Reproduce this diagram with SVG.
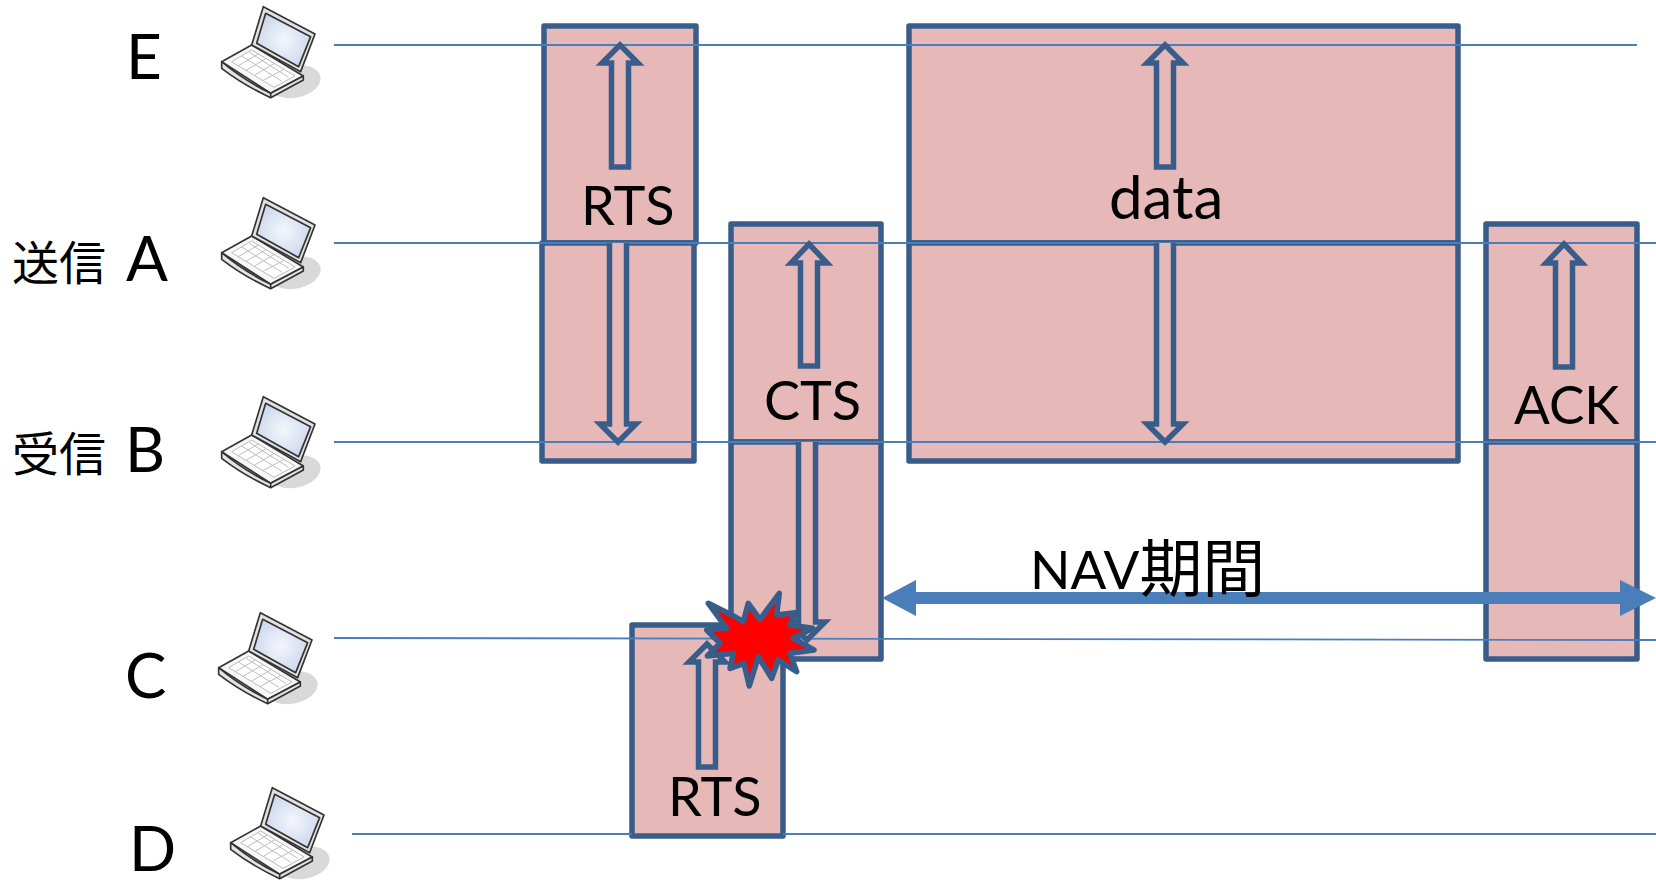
<svg xmlns="http://www.w3.org/2000/svg" width="1656" height="883" viewBox="0 0 1656 883">
<style>
.t{font-family:Lato,"Noto Sans CJK JP",sans-serif;fill:#000}
.lab{font-size:62px}
.box{font-size:54px}
.jp{font-size:47px;font-family:"Noto Sans CJK JP",sans-serif}
.cjk{font-size:63px;font-family:"Noto Sans CJK JP",sans-serif}
.b{fill:#e6b9b8;stroke:#385d8a;stroke-width:5.500;stroke-linejoin:round}
.a{fill:#e6b9b8;stroke:#385d8a;stroke-width:5.500;stroke-linejoin:miter}
.l{stroke:#4a7ebb;stroke-width:1.8;fill:none}
</style>
<defs>
<radialGradient id="scr" cx=".5" cy=".5" r=".6"><stop offset="0" stop-color="#f4f6fb"/><stop offset="1" stop-color="#c9d5ec"/></radialGradient>
<g id="laptop" transform="scale(.3333)" stroke-linejoin="round">
<ellipse cx="285" cy="245" rx="78" ry="48" fill="#d9d9d9" transform="rotate(-12 285 245)"/>
<path d="M65 185L155 135L310 228L212 280Z" fill="#f7f7f7" stroke="#333" stroke-width="5"/>
<path d="M65 185L65 205Q130 255 212 293L310 240L310 228L212 280Q130 240 65 185Z" fill="#e4e4e4" stroke="#333" stroke-width="5"/>
<path d="M212 280L212 293" stroke="#333" stroke-width="5"/>
<path d="M95 185L155 150L285 228L222 262Z" fill="#fff" stroke="#bbb" stroke-width="3"/>
<path d="M115 197L175 162M138 211L198 176M163 226L223 190M190 241L252 208M125 168L246 244M148 157L266 232" stroke="#bdbdbd" stroke-width="3" fill="none"/>
<path d="M155 135L190 20L345 102L302 215Z" fill="#e2e2e2" stroke="#333" stroke-width="5"/>
<path d="M197 40L332 110L296 200L170 130Z" fill="url(#scr)" stroke="#333" stroke-width="5"/>
</g>
</defs>
<g id="boxes">
<rect id="rts-top" class="b" x="544" y="26" width="152" height="217"/>
<rect id="rts-bottom" class="b" x="542" y="243" width="152" height="218"/>
<rect id="data-top" class="b" x="909" y="26" width="549" height="217"/>
<rect id="data-bottom" class="b" x="909" y="243" width="549" height="218"/>
<rect id="cts-top" class="b" x="731" y="224" width="150" height="218"/>
<rect id="cts-bottom" class="b" x="731" y="442" width="150" height="217"/>
<rect id="ack-top" class="b" x="1486" y="224" width="151" height="218"/>
<rect id="ack-bottom" class="b" x="1486" y="442" width="151" height="217"/>
<rect id="rts-c" class="b" x="632" y="625" width="151" height="211"/>
</g>
<g id="connectors">
<path class="l" d="M334 45H1637M334 243H1656M334 442H1656M334 638L1656 640M352 834H632M783 834H1656"/>
<path class="a" d="M620 45L638 63H628.500V167H611.500V63H602Z"/>
<path class="a" d="M1165 45L1183 63H1173.500V167H1156.500V63H1147Z"/>
<path class="a" d="M609.500 243V424H600L618 442L636 424H626.500V243"/>
<path class="a" d="M1156.500 243V424H1147L1165 442L1183 424H1173.500V243"/>
<path class="a" d="M809 244L827 263H817.500V366H800.500V263H791Z"/>
<path class="a" d="M798.500 442V622H789L807 640L825 622H815.500V442"/>
<path class="a" d="M1564 244L1582 263H1572.500V367H1555.500V263H1546Z"/>
<path class="a" d="M707 644L725 662H715.500V767H698.500V662H689Z"/>
<path d="M916 592H1620V580L1656 598L1620 616V604H916V616L882 598L916 580Z" fill="#4a7ebb"/>
</g>
<g id="burst">
<path d="M708.300 603.300L731.700 615L743.300 621.700L748.300 603.300L760 619.300L779.300 593.300L776.700 615L795 612.700L790 625L812.700 628.300L793.300 638.300L814 650L790 653.300L796.700 671.700L778.300 660L771.700 678.300L758.300 656.700L749.300 686L744 663.300L730 668.300L733.300 653.300L707.300 656L720 643.300L706.700 630L726.700 628.300Z" fill="#f00" stroke="#385d8a" stroke-width="5.500" stroke-linejoin="round"/>
</g>
<g id="labels">
<text class="t box" x="581" y="225">RTS</text>
<text class="t box" x="764" y="420">CTS</text>
<text class="t box" x="1109" y="219" style="font-size:60px">data</text>
<text class="t box" x="1514" y="424" style="font-size:53px">ACK</text>
<text class="t box" x="668" y="816">RTS</text>
<text class="t box" x="1030" y="589" style="font-size:53px">NAV<tspan class="cjk" y="591">期間</tspan></text>
<text class="t lab" x="126" y="79">E</text>
<text class="t lab" x="126" y="281">A</text>
<text class="t lab" x="125" y="472">B</text>
<text class="t lab" x="125" y="698">C</text>
<text class="t lab" x="129" y="871">D</text>
<text class="t jp" x="12" y="280">送信</text>
<text class="t jp" x="12" y="471">受信</text>
</g>
<g id="node-e"><use href="#laptop" x="200" y="0"/></g>
<g id="node-a"><use href="#laptop" x="200" y="191"/></g>
<g id="node-b"><use href="#laptop" x="200" y="390"/></g>
<g id="node-c"><use href="#laptop" x="197" y="606"/></g>
<g id="node-d"><use href="#laptop" x="209" y="781"/></g>
</svg>
